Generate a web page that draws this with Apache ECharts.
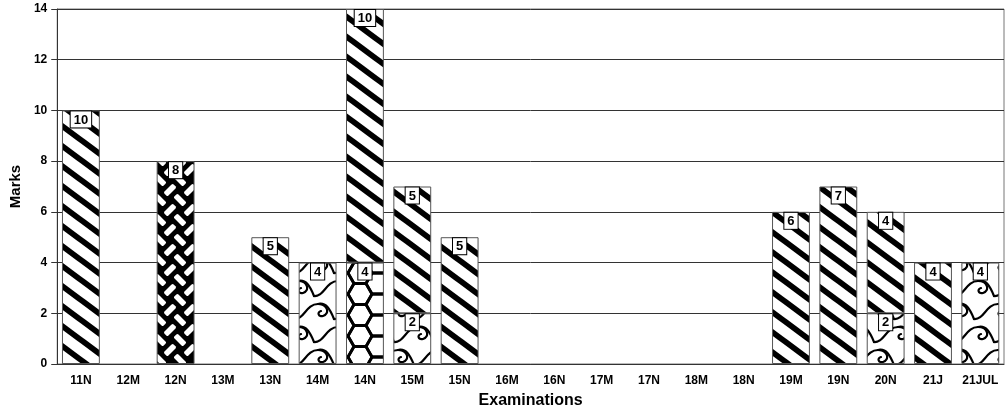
<!DOCTYPE html>
<html>
<head>
<meta charset="utf-8">
<script src="https://cdn.jsdelivr.net/npm/echarts@6/dist/echarts.min.js"></script>
<style>html,body{margin:0;padding:0;background:#fff}#c{width:1008px;height:414px}</style>
</head>
<body>
<div id="c"></div>
<script>
const categories = ['11N','12M','12N','13M','13N','14M','14N','15M','15N','16M','16N','17M','17N','18M','18N','19M','19N','20N','21J','21JUL'];
// bottom segments
const waveValues  = [null,null,null,null,null,4,null,2,null,null,null,null,null,null,null,null,null,2,null,4];
const hexValues   = [null,null,null,null,null,null,4,null,null,null,null,null,null,null,null,null,null,null,null,null];
// top segments
const diagValues  = [10,null,null,null,5,null,10,5,5,null,null,null,null,null,null,6,7,4,4,null];
const weaveValues = [null,null,8,null,null,null,null,null,null,null,null,null,null,null,null,null,null,null,null,null];
const yTicks = {min:0, max:14, interval:2};

function makeTile(w, h, draw) {
  const c = document.createElement('canvas');
  c.width = w; c.height = h;
  const ctx = c.getContext('2d');
  draw(ctx, w, h);
  return {image: c, repeat: 'repeat'};
}

const diagFill = makeTile(27, 20, (ctx, W, H) => {
  ctx.fillStyle = '#fff'; ctx.fillRect(0, 0, W, H);
  ctx.strokeStyle = '#000'; ctx.lineWidth = 5.8;
  for (let k = -2; k <= 2; k++) {
    ctx.beginPath();
    ctx.moveTo(k * W - W, -H);
    ctx.lineTo(k * W + 2 * W, 2 * H);
    ctx.stroke();
  }
});

const weaveFill = makeTile(20, 20, (ctx, W, H) => {
  ctx.fillStyle = '#000'; ctx.fillRect(0, 0, W, H);
  const L = 20 / Math.SQRT2;
  ctx.save();
  ctx.rotate(Math.PI / 4);
  ctx.fillStyle = '#fff';
  const sw = 5.6, sl = L - 1.2;
  for (let i = -5; i <= 5; i++) {
    for (let j = -5; j <= 5; j++) {
      const cx = i * L, cy = j * L;
      const horiz = ((i + j) % 2 + 2) % 2 === 0;
      ctx.beginPath();
      if (horiz) ctx.roundRect(cx - sl / 2, cy - sw / 2, sl, sw, 1.5);
      else ctx.roundRect(cx - sw / 2, cy - sl / 2, sw, sl, 1.5);
      ctx.fill();
    }
  }
  ctx.restore();
});

const hexFill = makeTile(36, 21, (ctx, W, H) => {
  ctx.fillStyle = '#fff'; ctx.fillRect(0, 0, W, H);
  ctx.strokeStyle = '#000'; ctx.lineWidth = 2.8; ctx.lineJoin = 'round';
  const rx = 12, hx = 6, hy = 10.5;
  const centers = [[0,0],[36,0],[0,21],[36,21],[18,10.5],[18,-10.5],[18,31.5]];
  centers.forEach(([cx, cy]) => {
    ctx.beginPath();
    ctx.moveTo(cx + rx, cy);
    ctx.lineTo(cx + hx, cy + hy);
    ctx.lineTo(cx - hx, cy + hy);
    ctx.lineTo(cx - rx, cy);
    ctx.lineTo(cx - hx, cy - hy);
    ctx.lineTo(cx + hx, cy - hy);
    ctx.closePath();
    ctx.stroke();
  });
});

const waveFill = makeTile(40, 46, (ctx, W, H) => {
  ctx.fillStyle = '#fff'; ctx.fillRect(0, 0, W, H);
  ctx.strokeStyle = '#000'; ctx.lineWidth = 2.2; ctx.lineCap = 'round';
  function wave(x, y) {
    ctx.beginPath();
    ctx.moveTo(x - 20, y + 8);
    ctx.bezierCurveTo(x - 10, y + 9, x - 8, y - 7, x + 4, y - 7);
    ctx.bezierCurveTo(x + 14, y - 7, x + 16, y + 3, x + 9, y + 5);
    ctx.bezierCurveTo(x + 4, y + 6, x + 3, y + 1, x + 7, y);
    ctx.stroke();
    ctx.beginPath();
    ctx.moveTo(x + 4, y - 7);
    ctx.bezierCurveTo(x + 12, y - 9, x + 16, y - 2, x + 20, y + 8);
    ctx.stroke();
  }
  const pos = [[14, 12], [34, 35]];
  pos.forEach(([x, y]) => {
    for (let dx = -W; dx <= W; dx += W) {
      for (let dy = -H; dy <= H; dy += H) wave(x + dx, y + dy);
    }
  });
});

const font = 'Liberation Sans, Arial, sans-serif';
const labelStyle = {
  show: true,
  position: 'insideTop',
  distance: 1,
  backgroundColor: '#fff',
  borderColor: '#000',
  borderWidth: 1,
  padding: [2, 3, 1, 3],
  color: '#000',
  fontSize: 13,
  fontWeight: 'bold',
  fontFamily: font
};

function barSeries(name, values, fill) {
  return {
    name, type: 'bar', stack: 'total', data: values,
    barWidth: '80%',
    itemStyle: {color: fill, borderColor: '#555', borderWidth: 1},
    label: labelStyle,
    emphasis: {disabled: true}
  };
}

const chart = echarts.init(document.getElementById('c'), null, {renderer: 'canvas'});
chart.setOption({
  animation: false,
  backgroundColor: '#fff',
  grid: {left: 57, right: 4, top: 9, bottom: 48, show: true, borderColor: '#777', borderWidth: 1, backgroundColor: 'transparent'},
  xAxis: [{
    type: 'category', data: categories, boundaryGap: true,
    name: 'Examinations', nameLocation: 'middle', nameGap: 29,
    nameTextStyle: {fontSize: 16, fontWeight: 'bold', color: '#000', fontFamily: font},
    axisLine: {lineStyle: {color: '#333', width: 1}},
    axisTick: {alignWithLabel: true, length: 5, lineStyle: {color: '#333'}},
    axisLabel: {fontSize: 12, fontWeight: 'bold', color: '#000', margin: 11, interval: 0, fontFamily: font}
  }, {
    type: 'category', data: categories, boundaryGap: true, position: 'bottom',
    axisLine: {show: false},
    axisTick: {length: 2, lineStyle: {color: '#333'}},
    axisLabel: {show: false}
  }],
  yAxis: {
    type: 'value', min: yTicks.min, max: yTicks.max, interval: yTicks.interval,
    name: 'Marks', nameLocation: 'middle', nameGap: 33,
    nameTextStyle: {fontSize: 15, fontWeight: 'bold', color: '#000', fontFamily: font},
    axisLine: {show: true, lineStyle: {color: '#333', width: 1}},
    axisTick: {show: true, length: 6, lineStyle: {color: '#333'}},
    axisLabel: {fontSize: 12, fontWeight: 'bold', color: '#000', margin: 10, fontFamily: font},
    splitLine: {lineStyle: {color: '#333', width: 1}}
  },
  series: [
    barSeries('wave', waveValues, waveFill),
    barSeries('hex', hexValues, hexFill),
    barSeries('diag', diagValues, diagFill),
    barSeries('weave', weaveValues, weaveFill)
  ]
});
</script>
</body>
</html>
